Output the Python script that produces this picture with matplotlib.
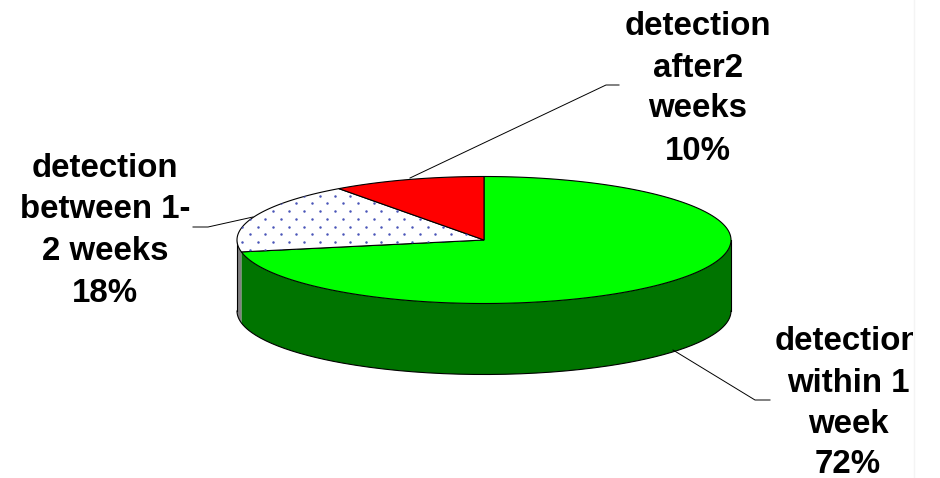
import numpy as np
import matplotlib
matplotlib.use('Agg')
import matplotlib.pyplot as plt
from matplotlib.patches import Polygon, Rectangle

plt.rcParams['font.family'] = ['Liberation Sans', 'DejaVu Sans']

shares = [72, 18, 10]
slice_colors = ['#00ff00', '#ffffff', '#ff0000']
side_colors = ['#007400', '#808080', '#c00000']
label_lines = [['detection', 'within 1', 'week', '72%'],
               ['detection', 'between 1-', '2 weeks', '18%'],
               ['detection', 'after2', 'weeks', '10%']]

# pie geometry in pixels
cx, cy = 484, 240
rx, ry = 247, 63.5
depth = 71


def rim(a0, a1, dy=0):
    # angle is clockwise from 12 o'clock, in degrees
    t = np.radians(np.linspace(a0, a1, 200))
    return np.column_stack([cx + rx*np.sin(t), cy - ry*np.cos(t) + dy])


fig = plt.figure(figsize=(9.4, 4.78), dpi=100)
ax = fig.add_axes([0, 0, 1, 1])
ax.set_xlim(0, 940)
ax.set_ylim(478, 0)
ax.axis('off')

edges = np.concatenate([[0], np.cumsum(shares)]) * 3.6

# side walls first, only the front half of the rim shows
for i in range(len(shares)):
    a0, a1 = max(edges[i], 90), min(edges[i+1], 270)
    if a1 <= a0:
        continue
    wall = np.vstack([rim(a0, a1), rim(a0, a1, depth)[::-1]])
    ax.add_patch(Polygon(wall, closed=True, fc=side_colors[i], ec='none', zorder=1))
ax.plot(*rim(90, 270, depth).T, color='black', lw=0.8, zorder=2)
ax.plot([cx-rx, cx-rx], [cy, cy+depth], color='black', lw=0.8, zorder=2)
ax.plot([cx+rx, cx+rx], [cy, cy+depth], color='black', lw=0.8, zorder=2)

# top faces
faces = []
for i in range(len(shares)):
    pts = np.vstack([[cx, cy], rim(edges[i], edges[i+1])])
    face = Polygon(pts, closed=True, fc=slice_colors[i], ec='black', lw=0.8, zorder=3)
    ax.add_patch(face)
    faces.append(face)

# stipple on the middle slice
rows = np.arange(195.7, 252, 7.72)
dot_x, dot_y = [], []
for n, y in enumerate(rows):
    start = 242.3 if n % 2 == 0 else 250
    for x in np.arange(start, 480, 15.45):
        dot_x.append(x)
        dot_y.append(y)
dots = ax.scatter(dot_x, dot_y, s=3.2, color='#4a55b8', linewidths=0, zorder=4)
dots.set_clip_path(faces[1])

# leader lines
ax.plot([673, 755, 770], [350, 400, 400], color='black', lw=0.7, zorder=2)
ax.plot([410, 606, 619], [178, 85, 85], color='black', lw=0.7, zorder=2)
ax.plot([253, 208, 193], [217, 227, 227], color='black', lw=0.7, zorder=2)

# labels, slide area cuts off at x=913
clip = Rectangle((0, 0), 913, 478, transform=ax.transData)
label_x = [848, 105, 698]
label_base = [[350, 392, 433, 473], [177, 218, 260, 302], [35, 77, 117, 160]]
for lines, x, bases in zip(label_lines, label_x, label_base):
    for line, y in zip(lines, bases):
        t = ax.text(x, y, line, fontsize=23.8, fontweight='bold', color='black',
                    ha='center', va='baseline', zorder=5)
        t.set_clip_path(clip)
        t.set_clip_on(True)

ax.plot([913.5, 913.5], [0, 478], color='#f4f4f4', lw=1, zorder=0)

fig.savefig('out.png', dpi=100)
